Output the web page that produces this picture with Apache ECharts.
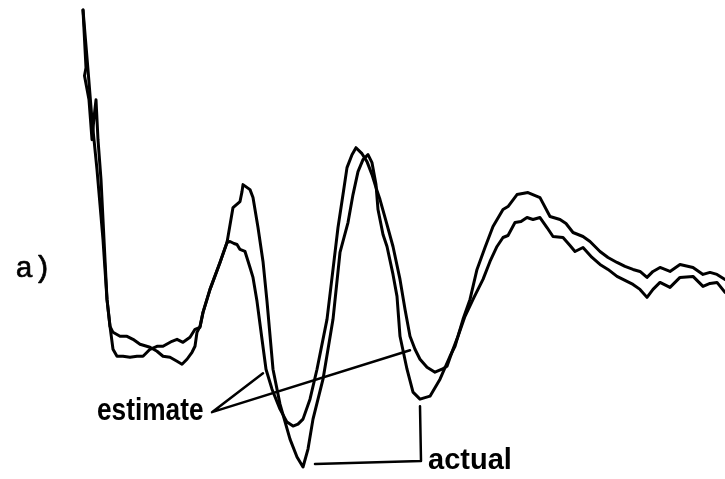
<!DOCTYPE html>
<html>
<head>
<meta charset="utf-8">
<script src="https://cdn.jsdelivr.net/npm/echarts@6/dist/echarts.min.js"></script>
<style>
  html, body { margin: 0; padding: 0; background: #fff; }
  #chart { width: 725px; height: 479px; }
</style>
</head>
<body>
<div id="chart"></div>
<script>
// time (arbitrary units) and response amplitude
var actualT = [0.6, 1.6, 2.4, 3.4, 4.6, 5.4, 6.0, 6.6, 7.4, 8.6, 10, 11.4, 12.6, 14, 15.4, 16.6, 18.4, 19.4, 20.6, 22, 23, 24, 24.6, 26, 28, 29.4, 30.6, 32, 32.4, 32.6, 34, 34.6, 35.6, 36.6, 37.4, 38.6, 40, 42, 43.4, 44.6, 45.6, 46.6, 48.6, 50.6, 52, 53.6, 54.6, 55.6, 56.6, 57.6, 58.4, 59.2, 59.6, 60.6, 61.4, 62.6, 63.4, 64, 65.4, 66.6, 68, 70, 72, 74, 75, 76.6, 78, 79.4, 81, 82.6, 84.6, 85.6, 87.4, 89.6, 92, 94, 96, 97.2, 98.6, 100.6, 102, 104, 105.6, 107.4, 109, 110.6, 112, 113.4, 114.6, 116, 118, 120, 122.6, 124.6, 126, 127.4, 129];
var actualV = [57.5, 42.5, 30, 17.5, 0, -15, -21.75, -27.5, -29.25, -29.25, -29.5, -29.25, -29.25, -27.5, -26.75, -26.75, -25.5, -25, -25.75, -24.5, -22.5, -22, -18.25, -12.5, -5.75, -0.75, 8, 9.5, 12, 13.75, 12.5, 10.5, 3, -5.5, -15.5, -32.5, -41.25, -50, -54.5, -57, -52.5, -45, -35, -20, -3.25, 4.25, 11.25, 17, 20, 21.25, 19.25, 13.75, 7.5, 1.25, -1.75, -8.75, -14.25, -24.25, -32.5, -38.25, -40, -39.25, -35, -29.25, -26.75, -20, -15, -7.5, -2, 3.25, 7.5, 8.25, 11.25, 11.75, 10.5, 5.75, 5, 4, 1.75, 0.75, -0.5, -3, -4.5, -5.75, -6.75, -7.5, -8, -9.5, -8, -7, -8, -6.25, -7, -8.75, -8.25, -8.75, -10];

var estimateT = [0.6, 1.2, 0.9, 1.8, 2.4, 2.8, 3.2, 3.6, 4.2, 4.8, 5.4, 6, 6.6, 8, 9.4, 10.6, 12, 14, 15.4, 16.6, 18, 19.4, 20.4, 21.4, 22.4, 23, 23.4, 24, 24.6, 26, 28, 29.4, 30, 30.8, 31.4, 32, 33, 34, 34.6, 35.4, 36.4, 37.2, 38.4, 40, 41.4, 42.6, 43.6, 44.6, 46, 47.4, 49.4, 50.6, 51.6, 52.6, 53.4, 54.4, 55.2, 56.4, 57.4, 58.4, 59.2, 60, 61.4, 62.6, 64, 65, 66, 67, 68, 69.4, 71, 72.4, 73.4, 74.6, 75.6, 77, 78.8, 80.6, 82, 83.4, 84.6, 85.6, 87, 88.2, 89.4, 90.6, 92, 93.4, 94.6, 96.6, 98, 99, 100.6, 102.4, 104, 105.6, 107.4, 109, 110.6, 112, 113.4, 114.6, 116, 118, 120, 122.6, 124.6, 126, 127.4, 129];
var estimateV = [57.5, 43, 41, 35, 25, 30.5, 35, 25, 15, 0, -15, -21.75, -23.25, -24.25, -24.25, -25, -26.25, -27, -28, -29.25, -29.5, -30.5, -31.25, -30, -28.25, -26.75, -23.25, -21.75, -18.25, -12.5, -5.75, -0.75, -0.5, -1, -1.25, -2.5, -3, -7, -9.5, -15.5, -25, -32.5, -37.5, -42.5, -45.75, -46.75, -46.25, -45, -40, -32.5, -20, -7.5, 3, 11.25, 18, 21.25, 23, 21.5, 19.5, 16.25, 13, 10, 3.75, -1.75, -10, -17.5, -24.25, -27.5, -30, -32, -33.25, -32.5, -31.75, -27.5, -24.25, -19.25, -14.5, -10, -5.5, -1.75, 0.5, 1, 4.25, 4.5, 5.5, 5, 5.5, 3, 0.75, 0.5, -1.5, -3, -2, -4.5, -6.25, -7.5, -9.25, -10.25, -11.25, -12.5, -14.5, -12.5, -10.75, -12, -9.5, -9.25, -11.75, -11, -10.75, -13.25];

// leader lines for the labels
var estimateLeaderT = [36.6, 26.4, 66];
var estimateLeaderV = [-33.5, -43.25, -27.75];
var actualLeaderT = [47, 68.2, 68];
var actualLeaderV = [-56.25, -55.5, -41.75];

function pairs(xs, ys) {
    var out = [];
    for (var i = 0; i < xs.length; i++) {
        out.push([xs[i], ys[i]]);
    }
    return out;
}

function trace(name, xs, ys, width) {
    return {
        name: name,
        type: 'line',
        data: pairs(xs, ys),
        showSymbol: false,
        silent: true,
        animation: false,
        lineStyle: { color: '#000', width: width, join: 'round', cap: 'round' }
    };
}

var chart = echarts.init(document.getElementById('chart'));
chart.setOption({
    backgroundColor: '#fff',
    animation: false,
    grid: { left: 80, top: 0, width: 645, height: 480 },
    xAxis: { type: 'value', min: 0, max: 129, show: false },
    yAxis: { type: 'value', min: -60, max: 60, show: false },
    series: [
        trace('actual', actualT, actualV, 3),
        trace('estimate', estimateT, estimateV, 3),
        trace('estimate leader', estimateLeaderT, estimateLeaderV, 2.5),
        trace('actual leader', actualLeaderT, actualLeaderV, 2.5)
    ],
    graphic: [
        {
            type: 'text', left: 15, top: 254,
            style: { text: 'a)', font: '30px "Liberation Mono", "DejaVu Sans Mono", monospace', fill: '#000', stroke: '#000', lineWidth: 0.6 }
        },
        {
            type: 'text', left: 97, top: 395, scaleX: 0.82,
            style: { text: 'estimate', font: 'bold 32px "Liberation Sans", Arial, sans-serif', fill: '#000' }
        },
        {
            type: 'text', left: 428, top: 446,
            style: { text: 'actual', font: 'bold 29px "Liberation Sans", Arial, sans-serif', fill: '#000' }
        }
    ]
});
</script>
</body>
</html>
